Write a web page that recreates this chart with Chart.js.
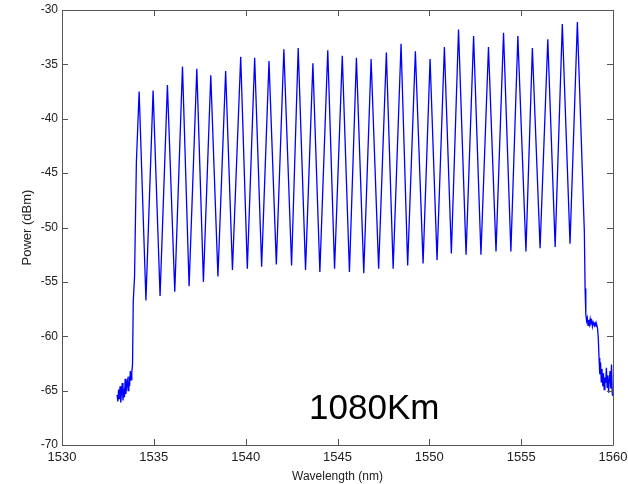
<!DOCTYPE html>
<html>
<head>
<meta charset="utf-8">
<script src="https://cdn.jsdelivr.net/npm/chart.js@4"></script>
<style>
  html, body { margin: 0; padding: 0; background: #fff; }
  #wrap { width: 628px; height: 484px; }
</style>
</head>
<body>
<div id="wrap"><canvas id="spectrum"></canvas></div>
<script>
// noisy floor before the comb (nm / dBm)
const leftNm = [1533.00, 1533.04, 1533.08, 1533.12, 1533.16, 1533.20, 1533.24, 1533.28, 1533.32, 1533.36,
  1533.40, 1533.44, 1533.48, 1533.52, 1533.56, 1533.60, 1533.64, 1533.68, 1533.72, 1533.76,
  1533.80, 1533.84, 1533.88, 1533.95, 1534.05];
const leftDbm = [-65.4, -66.0, -64.9, -65.8, -64.6, -66.1, -65.2, -64.3, -65.9, -64.8,
  -65.6, -63.9, -65.3, -64.5, -64.1, -65.0, -63.7, -64.6, -63.2, -64.0,
  -63.3, -62.6, -56.8, -54.5, -44.0];

// channel peaks
const peakNm = [1534.20, 1534.96, 1535.74, 1536.56, 1537.34, 1538.10, 1538.91, 1539.73, 1540.49, 1541.27,
  1542.08, 1542.86, 1543.66, 1544.47, 1545.26, 1546.03, 1546.83, 1547.66, 1548.46, 1549.24,
  1550.04, 1550.82, 1551.59, 1552.41, 1553.22, 1554.04, 1554.82, 1555.61, 1556.45, 1557.24, 1558.06];
const peakDbm = [-37.5, -37.4, -36.9, -35.2, -35.4, -36.0, -35.6, -34.3, -34.4, -34.7,
  -33.6, -33.5, -34.9, -33.7, -34.2, -34.4, -34.5, -33.9, -33.1, -33.8,
  -34.5, -33.4, -31.8, -32.4, -33.4, -32.1, -32.4, -33.5, -32.7, -31.3, -31.1];

// troughs between channels
const troughNm = [1534.57, 1535.34, 1536.14, 1536.92, 1537.70, 1538.49, 1539.28, 1540.09, 1540.87, 1541.67,
  1542.50, 1543.26, 1544.04, 1544.84, 1545.65, 1546.43, 1547.24, 1548.03, 1548.82, 1549.66,
  1550.42, 1551.20, 1552.00, 1552.81, 1553.63, 1554.44, 1555.26, 1556.03, 1556.85, 1557.66];
const troughDbm = [-56.7, -56.3, -55.9, -55.4, -55.0, -54.5, -53.9, -53.8, -53.6, -53.4,
  -53.5, -53.9, -54.1, -53.8, -54.1, -54.2, -53.8, -53.8, -53.5, -53.3,
  -53.0, -52.4, -52.5, -52.5, -52.2, -52.2, -52.2, -51.9, -51.8, -51.5];

// tail after the last channel
const rightNm = [1558.44, 1558.48, 1558.52, 1558.56, 1558.60, 1558.64, 1558.68, 1558.72, 1558.76, 1558.80,
  1558.84, 1558.88, 1558.92, 1558.96, 1559.00, 1559.04, 1559.08, 1559.12, 1559.16, 1559.20,
  1559.24, 1559.28, 1559.32, 1559.36, 1559.40, 1559.44, 1559.48, 1559.52, 1559.56, 1559.60,
  1559.64, 1559.68, 1559.72, 1559.76, 1559.80, 1559.84, 1559.88, 1559.92, 1559.96, 1560.00];
const rightDbm = [-50.4, -55.6, -58.0, -58.6, -58.3, -59.0, -58.5, -58.9, -58.4, -58.8,
  -58.6, -59.1, -58.7, -58.9, -59.0, -58.8, -59.1, -59.0, -59.3, -60.2,
  -62.0, -63.5, -62.4, -64.2, -63.0, -64.6, -63.4, -64.9, -63.8, -64.3,
  -62.9, -64.7, -63.6, -65.2, -64.0, -63.2, -64.8, -62.6, -65.3, -65.5];

const xTicks = [1530, 1535, 1540, 1545, 1550, 1555, 1560];
const yTicks = [-70, -65, -60, -55, -50, -45, -40, -35, -30];
const label = '1080Km';

// put the trace together
const trace = [];
leftNm.forEach((x, i) => trace.push({ x: x, y: leftDbm[i] }));
peakNm.forEach((x, i) => {
	trace.push({ x: x, y: peakDbm[i] });
	if (i < troughNm.length) trace.push({ x: troughNm[i], y: troughDbm[i] });
});
rightNm.forEach((x, i) => trace.push({ x: x, y: rightDbm[i] }));

const FONT = 'Arial, "Liberation Sans", sans-serif';
const AXIS = '#555';

// matlab style box with ticks pointing inwards
const boxPlugin = {
	id: 'box',
	afterDraw(chart) {
		const { ctx, chartArea: a, scales } = chart;
		ctx.save();
		ctx.strokeStyle = AXIS;
		ctx.lineWidth = 1;
		ctx.beginPath();
		ctx.rect(Math.round(a.left) + 0.5, Math.round(a.top) + 0.5,
			Math.round(a.right - a.left), Math.round(a.bottom - a.top));
		xTicks.forEach(v => {
			const px = Math.round(scales.x.getPixelForValue(v)) + 0.5;
			ctx.moveTo(px, a.bottom); ctx.lineTo(px, a.bottom - 6);
			ctx.moveTo(px, a.top); ctx.lineTo(px, a.top + 6);
		});
		yTicks.forEach(v => {
			const py = Math.round(scales.y.getPixelForValue(v)) + 0.5;
			ctx.moveTo(a.left, py); ctx.lineTo(a.left + 6, py);
			ctx.moveTo(a.right, py); ctx.lineTo(a.right - 6, py);
		});
		ctx.stroke();

		ctx.fillStyle = '#000';
		ctx.font = '35px ' + FONT;
		ctx.textAlign = 'center';
		ctx.textBaseline = 'alphabetic';
		ctx.fillText(label, scales.x.getPixelForValue(1547), scales.y.getPixelForValue(-67.65));
		ctx.restore();
	}
};

new Chart(document.getElementById('spectrum').getContext('2d'), {
	type: 'line',
	data: {
		datasets: [{
			label: 'power',
			data: trace,
			borderColor: '#0000ff',
			borderWidth: 1.3,
			pointRadius: 0,
			tension: 0,
			fill: false,
		}],
	},
	options: {
		responsive: true,
		maintainAspectRatio: false,
		animation: false,
		events: [],
		layout: { padding: { left: 0, right: 15, top: 10, bottom: 0 } },
		plugins: {
			legend: { display: false },
			tooltip: { enabled: false },
		},
		scales: {
			x: {
				type: 'linear',
				min: 1530,
				max: 1560,
				afterBuildTicks: s => { s.ticks = xTicks.map(v => ({ value: v })); },
				afterFit: s => { s.height = 39; s.paddingLeft = 0; s.paddingRight = 0; },
				grid: { display: false, drawTicks: false },
				border: { display: false },
				ticks: { color: '#222', padding: 5, font: { family: FONT, size: 13 }, maxRotation: 0, callback: v => String(v) },
				title: { display: true, text: 'Wavelength (nm)', color: '#222', font: { family: FONT, size: 12 }, padding: { top: 10, bottom: 0 } },
			},
			y: {
				type: 'linear',
				min: -70,
				max: -30,
				afterBuildTicks: s => { s.ticks = yTicks.map(v => ({ value: v })); },
				afterFit: s => { s.width = 62; s.paddingTop = 0; s.paddingBottom = 0; },
				grid: { display: false, drawTicks: false },
				border: { display: false },
				ticks: { color: '#222', padding: 4, font: { family: FONT, size: 12 }, callback: v => String(v) },
				title: { display: true, text: 'Power (dBm)', color: '#222', font: { family: FONT, size: 13 }, padding: { top: 20, bottom: 0 } },
			},
		},
	},
	plugins: [boxPlugin],
});
</script>
</body>
</html>
